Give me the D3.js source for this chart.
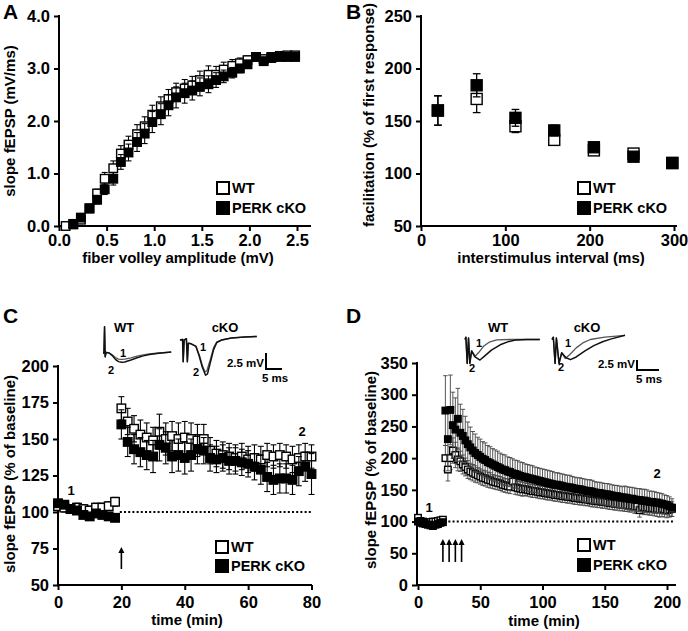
<!DOCTYPE html>
<html>
<head>
<meta charset="utf-8">
<script src="https://cdn.jsdelivr.net/npm/d3@7"></script>
<style>
  body { margin: 0; background: #fff; }
  svg text { font-family: "Liberation Sans", Arial, sans-serif; font-weight: bold; fill: #000; }
</style>
</head>
<body>
<svg id="fig" width="688" height="631"></svg>
<script>
// ---- A: input/output ----
var aVoltWT = [0.07,0.15,0.23,0.32,0.40,0.48,0.57,0.65,0.73,0.82,0.90,0.98,1.07,1.15,1.23,1.32,1.40,1.48,1.57,1.65,1.73,1.82,1.90,1.98,2.07,2.15,2.23,2.32,2.40,2.48];
var aSlopeWT = [0.00,0.03,0.12,0.33,0.62,0.90,1.10,1.38,1.55,1.75,1.90,2.12,2.28,2.42,2.55,2.62,2.68,2.78,2.88,2.88,2.98,3.05,3.10,3.16,3.22,3.18,3.22,3.24,3.25,3.25];
var aErrWT = [0.02,0.02,0.04,0.06,0.08,0.12,0.14,0.15,0.16,0.18,0.18,0.18,0.18,0.18,0.17,0.17,0.17,0.17,0.17,0.16,0.14,0.12,0.10,0.08,0.06,0.06,0.05,0.05,0.05,0.05];
var aVoltKO = [0.15,0.23,0.32,0.40,0.48,0.57,0.65,0.73,0.82,0.90,0.98,1.07,1.15,1.23,1.32,1.40,1.48,1.57,1.65,1.73,1.82,1.90,1.98,2.07,2.15,2.23,2.32,2.40,2.48];
var aSlopeKO = [0.04,0.16,0.34,0.50,0.70,0.90,1.22,1.40,1.60,1.76,1.98,2.13,2.30,2.45,2.53,2.58,2.65,2.70,2.78,2.85,2.92,3.00,3.08,3.22,3.14,3.20,3.22,3.22,3.22];
var aErrKO = [0.02,0.03,0.05,0.08,0.10,0.12,0.14,0.16,0.18,0.19,0.20,0.20,0.20,0.20,0.19,0.18,0.17,0.16,0.14,0.12,0.10,0.08,0.07,0.06,0.05,0.05,0.05,0.05,0.05];

// ---- B: paired pulse ----
var bInterval = [20,66,112,158,205,252,298];
var bWT = [160,171,145,132,122,119,110];
var bWTerr = [14,13,6,5,4,4,3];
var bKO = [160,184,153,141,125,116,110];
var bKOerr = [14,11,8,5,4,3,3];

// ---- C: LTP, single train ----
var cTime = [0,2,4,6,8,10,12,14,16,18,20,22,24,26,28,30,32,34,36,38,40,42,44,46,48,50,52,54,56,58,60,62,64,66,68,70,72,74,76,78,80];
var cWT = [104,103,102,103,102,101,103,103,104,107,171,162,157,153,151,149,155,150,152,150,151,150,149,150,142,140,139,138,137,138,136,137,136,139,138,139,138,136,137,138,138];
var cWTerr = [3,3,3,3,3,3,3,3,3,3,8,9,9,10,10,9,12,11,10,11,11,11,11,10,9,9,9,9,9,9,9,9,9,8,8,8,8,9,9,9,8];
var cKO = [106,105,102,101,98,97,99,98,97,96,160,148,143,141,139,138,146,144,138,139,137,139,143,142,137,136,137,135,135,134,133,131,129,124,122,123,123,122,128,131,126];
var cKOerr = [2,2,2,2,2,2,2,2,2,2,10,10,10,10,10,11,11,11,11,11,11,11,10,9,9,9,9,9,9,9,9,9,10,10,10,10,10,10,10,10,14];

// ---- D: LTP, four trains ----
var dTime = [0,2,4,6,8,10,12,14,16,18,20,
  22,24,26,28,30,32,34,36,38,40,42,44,46,48,50,52,54,56,58,60,62,64,66,68,70,72,74,76,78,80,
  82,84,86,88,90,92,94,96,98,100,102,104,106,108,110,112,114,116,118,120,122,124,126,128,130,
  132,134,136,138,140,142,144,146,148,150,152,154,156,158,160,162,164,166,168,170,172,174,176,
  178,180,182,184,186,188,190,192,194,196,198,200,202,204];
var dWT = [106,101,100,99,98,99,100,100,101,102,103,
  200,182,200,212,205,198,195,190,186,182,
  179,177,175,173,171,169,168,166,165,163,
  162,161,160,158,157,156,155,163,154,153,
  152,151,151,150,149,148,148,147,146,146,
  145,144,144,143,142,142,141,140,140,139,
  139,138,137,137,136,136,135,135,134,133,
  133,132,132,131,131,130,129,129,128,128,
  127,127,126,126,125,125,124,124,118,123,
  122,122,121,121,120,120,119,120,119,118,
  119,120];
var dWTerr = [4,4,4,4,4,4,4,4,4,4,4,
  20,18,18,20,20,18,16,15,14,14,
  13,13,13,12,12,12,12,12,12,11,
  11,11,11,11,11,11,11,11,11,11,
  11,11,10,10,10,10,10,10,10,10,
  10,10,10,10,10,10,10,10,10,10,
  10,10,10,10,10,10,10,10,10,10,
  10,10,10,10,10,10,10,10,10,10,
  10,10,10,10,10,10,11,11,11,11,
  11,11,11,11,11,12,12,12,12,12,
  12,12];
var dKO = [100,98,97,96,95,94,93,95,96,98,99,
  275,230,276,252,245,262,240,235,228,222,
  217,212,208,205,202,199,197,194,192,190,
  188,186,184,182,181,179,178,176,175,174,
  172,171,170,169,168,167,166,165,164,163,
  162,161,160,159,158,158,157,156,155,154,
  154,153,152,151,151,150,149,148,148,147,
  146,145,145,144,143,143,142,141,140,140,
  139,138,138,137,136,136,135,134,134,133,
  133,132,131,131,130,130,129,128,127,126,
  124,122];
var dKOerr = [4,4,4,4,4,4,4,4,4,4,4,
  55,50,55,52,50,48,45,42,38,35,
  32,30,30,28,28,27,27,26,26,25,
  25,25,24,24,24,23,23,23,22,22,
  22,22,21,21,21,21,20,20,20,20,
  20,20,20,20,19,19,19,19,19,19,
  19,18,18,18,18,18,18,18,18,18,
  17,17,17,17,17,17,17,17,17,17,
  17,17,18,18,18,18,18,18,18,18,
  18,18,17,17,17,16,16,16,15,15,
  15,14];
var dTrains = [20,25,30,35];

// ---- example fEPSP traces [ms, mV] ----
var cTraceWT1 = [[0,0],[0.3,0],[0.5,4.1],[0.7,-0.6],[1,0.1],[2,0],[3,-0.3],[4,-0.7],[5,-0.95],[6,-1.0],[7,-0.95],[9,-0.75],[11,-0.5],[13,-0.3],[15,-0.15],[18,0],[22,0.15]];
var cTraceWT2 = [[0,0],[0.3,0],[0.5,4.1],[0.7,-0.6],[1,0.1],[2,0],[3,-0.4],[4,-1.0],[5,-1.35],[6,-1.45],[7,-1.4],[9,-1.1],[11,-0.75],[13,-0.45],[15,-0.25],[18,-0.05],[22,0.15]];
var cTraceKO1 = [[0,0],[0.8,0.1],[1,-3.4],[1.3,0],[2,0.2],[2.3,-3.4],[2.6,-0.5],[3.5,-0.6],[5,-1.0],[6,-2.3],[7,-4.0],[7.8,-5.0],[8.4,-4.8],[9.5,-3.0],[10.5,-1.2],[11.5,-0.3],[13,0],[16,0.3],[20,0.45],[24,0.55]];
var cTraceKO2 = [[0,0],[0.8,0.1],[1,-3.4],[1.3,0],[2,0.2],[2.3,-3.4],[2.6,-0.5],[3.5,-0.6],[5,-1.0],[6,-2.5],[7,-4.3],[8,-5.5],[8.6,-5.3],[9.5,-3.5],[10.5,-1.5],[11.5,-0.4],[13,0],[16,0.3],[20,0.45],[24,0.55]];
var dTraceWT1 = [[0,0],[0.2,0.6],[0.5,-6.3],[0.8,0.4],[1.1,-6.3],[1.5,-3],[2.3,-4.4],[3.2,-3.3],[4.2,-1.8],[5.5,-0.7],[7.2,-0.1],[10,0],[17,0]];
var dTraceWT2 = [[0,0],[0.2,0.6],[0.5,-6.3],[0.8,0.4],[1.1,-6.3],[1.5,-3],[2.2,-4.5],[3.4,-5.4],[4.5,-4.3],[6,-2.8],[8,-1.4],[10,-0.5],[11.7,-0.1],[14,0],[17,0]];
var dTraceKO1 = [[0,0],[0.3,0.6],[0.7,-6.3],[1.0,0.4],[1.6,-6.3],[2.2,-3.5],[3.0,-5.0],[4.0,-4.0],[5.5,-2.2],[7,-0.9],[8.7,0],[12,0.6],[16.6,1.1]];
var dTraceKO2 = [[0,0],[0.3,0.6],[0.7,-6.3],[1.0,0.4],[1.6,-6.3],[2.2,-3.5],[3.2,-4.8],[4.2,-5.3],[5.5,-4.6],[7.5,-3.0],[9.5,-1.6],[11.5,-0.6],[13.3,0.1],[16.6,1.1]];

var svg = d3.select("#fig");
var FS_TICK = 16.5, FS_TITLE = 15, FS_LEG = 14.5;

function drawAxes(g, x, y, opt) {
  var xa = g.append("g").attr("transform", "translate(0," + y.range()[0] + ")")
    .call(d3.axisBottom(x).tickValues(opt.xTicks).tickFormat(opt.xFmt).tickSize(5).tickSizeOuter(0).tickPadding(opt.xPad));
  var ya = g.append("g").attr("transform", "translate(" + opt.yAxisX + ",0)")
    .call(d3.axisLeft(y).tickValues(opt.yTicks).tickFormat(opt.yFmt).tickSize(5).tickSizeOuter(0).tickPadding(4));
  [xa, ya].forEach(function (a) {
    a.select(".domain").remove();
    a.selectAll("line").attr("stroke", "#000").attr("stroke-width", 2);
    a.selectAll("text").style("font-size", FS_TICK + "px");
  });
  g.append("line").attr("x1", opt.yAxisX - 1).attr("x2", opt.xEnd)
    .attr("y1", y.range()[0]).attr("y2", y.range()[0]).attr("stroke", "#000").attr("stroke-width", 2);
  g.append("line").attr("x1", opt.yAxisX).attr("x2", opt.yAxisX)
    .attr("y1", y.range()[0] + 1).attr("y2", y.range()[1] - 1).attr("stroke", "#000").attr("stroke-width", 2);
}

function series(g, x, y, xs, ys, errs, filled, size, errColor, errWidth) {
  var cap = size * 0.35;
  var eg = g.append("g").attr("stroke", errColor).attr("stroke-width", errWidth);
  xs.forEach(function (t, i) {
    var cx = x(t), lo = y(ys[i] - errs[i]), hi = y(ys[i] + errs[i]);
    eg.append("line").attr("x1", cx).attr("x2", cx).attr("y1", lo).attr("y2", hi);
    eg.append("line").attr("x1", cx - cap).attr("x2", cx + cap).attr("y1", hi).attr("y2", hi);
    eg.append("line").attr("x1", cx - cap).attr("x2", cx + cap).attr("y1", lo).attr("y2", lo);
  });
  g.append("g").selectAll("rect").data(xs).join("rect")
    .attr("x", function (t) { return x(t) - size / 2; })
    .attr("y", function (t, i) { return y(ys[i]) - size / 2; })
    .attr("width", size).attr("height", size)
    .attr("fill", filled ? "#000" : "#fff")
    .attr("stroke", "#000").attr("stroke-width", 1.4);
}

function legend(g, x, y1, y2) {
  g.append("rect").attr("x", x).attr("y", y1 - 6).attr("width", 12).attr("height", 12)
    .attr("fill", "#fff").attr("stroke", "#000").attr("stroke-width", 2);
  g.append("rect").attr("x", x - 1).attr("y", y2 - 7).attr("width", 14).attr("height", 14).attr("fill", "#000");
  g.append("text").attr("x", x + 15).attr("y", y1 + 5).style("font-size", FS_LEG + "px").text("WT");
  g.append("text").attr("x", x + 15).attr("y", y2 + 5).style("font-size", FS_LEG + "px").text("PERK cKO");
}

function titles(g, xt, yt) {
  g.append("text").attr("x", xt[0]).attr("y", xt[1]).attr("text-anchor", "middle")
    .style("font-size", FS_TITLE + "px").text(xt[2]);
  g.append("text").attr("transform", "translate(" + yt[0] + "," + yt[1] + ") rotate(-90)")
    .attr("text-anchor", "middle").style("font-size", FS_TITLE + "px").text(yt[2]);
}

function panelLetter(x, y, s) {
  svg.append("text").attr("x", x).attr("y", y).style("font-size", "21px").text(s);
}

function trace(g, ox, oy, kx, ky, pts, color, w) {
  var line = d3.line().x(function (p) { return ox + p[0] * kx; }).y(function (p) { return oy - p[1] * ky; });
  g.append("path").attr("d", line(pts)).attr("fill", "none").attr("stroke", color).attr("stroke-width", w)
    .attr("stroke-linejoin", "round");
}

function small(g, x, y, s, size, anchor) {
  g.append("text").attr("x", x).attr("y", y).attr("text-anchor", anchor || "start")
    .style("font-size", (size || 12) + "px").text(s);
}

function scaleBar(g, x, y, w, h) {
  g.append("path").attr("d", "M" + x + "," + (y - h) + "V" + y + "H" + (x + w))
    .attr("fill", "none").attr("stroke", "#000").attr("stroke-width", 2);
  small(g, x - 2, y - 2, "2.5 mV", 11.5, "end");
  small(g, x + w / 2 + 1, y + 13, "5 ms", 11.5, "middle");
}

function arrow(g, x, yTop, yBot) {
  g.append("line").attr("x1", x).attr("x2", x).attr("y1", yTop + 4).attr("y2", yBot)
    .attr("stroke", "#000").attr("stroke-width", 1.6);
  g.append("path").attr("d", "M" + (x - 3) + "," + (yTop + 6) + "L" + x + "," + yTop + "L" + (x + 3) + "," + (yTop + 6) + "Z")
    .attr("fill", "#000");
}

// ======== Panel A ========
(function () {
  var g = svg.append("g");
  var x = d3.scaleLinear().domain([0, 2.5]).range([59, 297]);
  var y = d3.scaleLinear().domain([0, 4]).range([226, 16]);
  drawAxes(g, x, y, { xTicks: [0, 0.5, 1, 1.5, 2, 2.5], yTicks: [0, 1, 2, 3, 4],
    xFmt: d3.format(".1f"), yFmt: d3.format(".1f"), xPad: 3, yAxisX: 59, xEnd: 311 });
  series(g, x, y, aVoltWT, aSlopeWT, aErrWT, false, 8.5, "#000", 1.1);
  series(g, x, y, aVoltKO, aSlopeKO, aErrKO, true, 8.5, "#000", 1.1);
  legend(g, 217, 188, 208);
  titles(g, [178, 263, "fiber volley amplitude (mV)"], [15, 121, "slope fEPSP (mV/ms)"]);
  panelLetter(3, 19, "A");
})();

// ======== Panel B ========
(function () {
  var g = svg.append("g");
  var x = d3.scaleLinear().domain([0, 300]).range([421, 674]);
  var y = d3.scaleLinear().domain([50, 250]).range([226, 16]);
  drawAxes(g, x, y, { xTicks: [0, 100, 200, 300], yTicks: [50, 100, 150, 200, 250],
    xFmt: d3.format("d"), yFmt: d3.format("d"), xPad: 3, yAxisX: 421, xEnd: 677 });
  series(g, x, y, bInterval, bWT, bWTerr, false, 11, "#000", 1.3);
  series(g, x, y, bInterval, bKO, bKOerr, true, 11, "#000", 1.3);
  legend(g, 578, 188, 208);
  titles(g, [551, 263, "interstimulus interval (ms)"], [374, 115, "facilitation (% of first response)"]);
  panelLetter(346, 19, "B");
})();

// ======== Panel C ========
(function () {
  var g = svg.append("g");
  var x = d3.scaleLinear().domain([0, 80]).range([58, 311.5]);
  var y = d3.scaleLinear().domain([50, 200]).range([585, 366]);
  drawAxes(g, x, y, { xTicks: [0, 20, 40, 60, 80], yTicks: [50, 75, 100, 125, 150, 175, 200],
    xFmt: d3.format("d"), yFmt: d3.format("d"), xPad: 6, yAxisX: 58, xEnd: 312 });
  g.append("line").attr("x1", x(19.5)).attr("x2", x(80)).attr("y1", y(100)).attr("y2", y(100))
    .attr("stroke", "#000").attr("stroke-width", 2).attr("stroke-dasharray", "2,2.2");
  series(g, x, y, cTime, cWT, cWTerr, false, 8.5, "#000", 1.1);
  series(g, x, y, cTime, cKO, cKOerr, true, 8.5, "#000", 1.1);
  arrow(g, x(20), 547, 569);
  small(g, 71, 495, "1", 13, "middle");
  small(g, 302, 436, "2", 13, "middle");
  legend(g, 216, 547, 566);
  titles(g, [187, 625, "time (min)"], [15, 474, "slope fEPSP (% of baseline)"]);
  panelLetter(3, 323, "C");

  // inset traces
  small(g, 124, 332, "WT", 13, "middle");
  small(g, 225, 332, "cKO", 13, "middle");
  trace(g, 103, 353, 3.1, 6.4, cTraceWT1, "#555", 1.3);
  trace(g, 103, 353, 3.1, 6.4, cTraceWT2, "#111", 1.5);
  trace(g, 180, 340, 3.2, 6.4, cTraceKO1, "#555", 1.3);
  trace(g, 180, 340, 3.2, 6.4, cTraceKO2, "#111", 1.5);
  small(g, 123, 357, "1", 11, "middle");
  small(g, 111, 374, "2", 11, "middle");
  small(g, 203, 351, "1", 11, "middle");
  small(g, 196, 376, "2", 11, "middle");
  scaleBar(g, 266, 369, 16, 16);
})();

// ======== Panel D ========
(function () {
  var g = svg.append("g");
  var x = d3.scaleLinear().domain([0, 200]).range([418, 667]);
  var y = d3.scaleLinear().domain([0, 350]).range([585, 363]);
  drawAxes(g, x, y, { xTicks: [0, 50, 100, 150, 200], yTicks: [0, 50, 100, 150, 200, 250, 300, 350],
    xFmt: d3.format("d"), yFmt: d3.format("d"), xPad: 6, yAxisX: 417, xEnd: 676 });
  g.append("line").attr("x1", x(21)).attr("x2", x(206)).attr("y1", y(100)).attr("y2", y(100))
    .attr("stroke", "#000").attr("stroke-width", 2).attr("stroke-dasharray", "2,2.2");
  series(g, x, y, dTime, dWT, dWTerr, false, 6.5, "#444", 0.9);
  series(g, x, y, dTime, dKO, dKOerr, true, 6.5, "#444", 0.9);
  dTrains.forEach(function (t) { arrow(g, x(t), 539, 562); });
  small(g, 429, 512, "1", 13, "middle");
  small(g, 657, 478, "2", 13, "middle");
  legend(g, 578, 545, 565);
  titles(g, [544, 626, "time (min)"], [376, 470, "slope fEPSP (% of baseline)"]);
  panelLetter(346, 323, "D");

  small(g, 498, 332, "WT", 13, "middle");
  small(g, 587, 332, "cKO", 13, "middle");
  trace(g, 465, 339.5, 4.4, 3.8, dTraceWT1, "#555", 1.3);
  trace(g, 465, 339.5, 4.4, 3.8, dTraceWT2, "#111", 1.5);
  trace(g, 552, 339.5, 4.4, 3.8, dTraceKO1, "#555", 1.3);
  trace(g, 552, 339.5, 4.4, 3.8, dTraceKO2, "#111", 1.5);
  small(g, 479, 347, "1", 11, "middle");
  small(g, 472, 372, "2", 11, "middle");
  small(g, 568, 347, "1", 11, "middle");
  small(g, 561, 371, "2", 11, "middle");
  scaleBar(g, 637, 370, 22, 10);
})();
</script>
</body>
</html>
